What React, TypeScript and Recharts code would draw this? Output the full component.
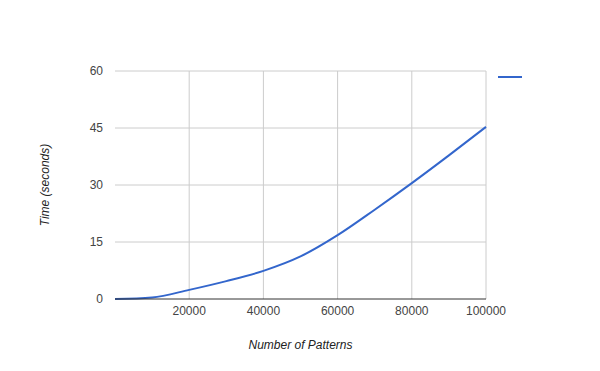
import { LineChart, Line, XAxis, YAxis, CartesianGrid } from 'recharts';

const patterns = [0, 10000, 20000, 30000, 40000, 50000, 60000, 70000, 80000, 90000, 100000];
const seconds = [0, 0.4, 2.4, 4.7, 7.4, 11.2, 16.8, 23.5, 30.5, 37.8, 45.3];
const xTicks = [20000, 40000, 60000, 80000, 100000];
const yTicks = [0, 15, 30, 45, 60];

const data = patterns.map((p, i) => ({ patterns: p, time: seconds[i] }));

const FONT = '"Liberation Sans", Arial, sans-serif';

export default function App() {
  return (
    <div style={{ position: 'absolute', left: 0, top: 0, width: 600, height: 371, background: '#fff', fontFamily: FONT }}>
      <LineChart width={600} height={371} data={data} margin={{ top: 71, right: 114, bottom: 0, left: 35 }}>
        <CartesianGrid stroke="#cccccc" horizontalValues={[15, 30, 45, 60]} verticalValues={xTicks} />
        <XAxis
          dataKey="patterns"
          type="number"
          domain={[0, 100000]}
          ticks={xTicks}
          height={72}
          tickSize={0}
          tickMargin={7}
          axisLine={{ stroke: '#333333' }}
          tick={{ fill: '#444444', fontSize: 12, fontFamily: FONT }}
          label={{ value: 'Number of Patterns', position: 'insideBottom', offset: 22, fill: '#222222', fontSize: 12, fontStyle: 'italic', fontFamily: FONT }}
        />
        <YAxis
          type="number"
          domain={[0, 60]}
          ticks={yTicks}
          width={80}
          tickSize={0}
          tickMargin={12}
          axisLine={false}
          tick={{ fill: '#444444', fontSize: 12, fontFamily: FONT }}
          label={{ value: 'Time (seconds)', angle: -90, position: 'insideLeft', offset: 10, fill: '#222222', fontSize: 12, fontStyle: 'italic', fontFamily: FONT, style: { textAnchor: 'middle' } }}
        />
        <Line
          type="monotone"
          dataKey="time"
          stroke="#3366cc"
          strokeWidth={2}
          dot={false}
          isAnimationActive={false}
        />
      </LineChart>
      {/* legend: just the line swatch, no text */}
      <svg width={26} height={6} style={{ position: 'absolute', left: 498, top: 74 }}>
        <line x1={0} y1={3} x2={24} y2={3} stroke="#3366cc" strokeWidth={2} />
      </svg>
    </div>
  );
}
